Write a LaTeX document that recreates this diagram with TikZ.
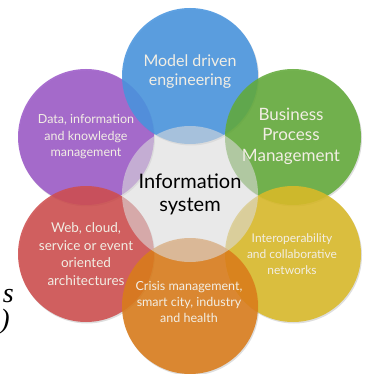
\documentclass[tikz,border=0pt]{standalone}
\usepackage{fontspec}
\setmainfont{Liberation Serif}
\setsansfont{Lato}
\usetikzlibrary{positioning}

\definecolor{mdeblue}{RGB}{72,148,222}
\definecolor{bpmgreen}{RGB}{98,170,58}
\definecolor{netyellow}{RGB}{218,186,40}
\definecolor{crisisorange}{RGB}{218,124,26}
\definecolor{webred}{RGB}{206,78,78}
\definecolor{datapurple}{RGB}{156,90,200}
\definecolor{coregray}{RGB}{218,218,218}
\definecolor{textcream}{RGB}{242,238,228}

\tikzset{
  topic/.style={circle, minimum size=136pt, inner sep=0pt, outer sep=0pt, fill opacity=0.88},
  topictext/.style={text=textcream, align=center, inner sep=0pt},
}

\begin{document}
\begin{tikzpicture}[x=1pt, y=-1pt]
      \useasboundingbox (0,0) rectangle (368,374);
      \clip (0,0) rectangle (368,374);

      % soft shadows under the circles
      \foreach \p in {(190,76),(293,137),(293,254),(190,306),(86,254),(86,137)}
        \fill[black, opacity=0.13] \p ++(1,1.5) circle (68);

      \node[topic, fill=datapurple] (data) at (86,137) {};
      \node[topic, fill=mdeblue] (mde) at (190,76) {};
      \node[topic, fill=bpmgreen] (bpm) at (293,137) {};
      \node[topic, fill=netyellow] (net) at (293,254) {};
      \node[topic, fill=webred] (web) at (86,254) {};
      \node[topic, fill=crisisorange] (crisis) at (190,306) {};
      \node[topic, fill=coregray, fill opacity=0.6] (core) at (190,194) {};

      \node[topictext, font=\sffamily\fontsize{16}{19}\selectfont]
        (mdetext) at ([yshift=4]mde.center) {Model driven\\engineering};
      \node[topictext, font=\sffamily\fontsize{17}{20.5}\selectfont]
        (bpmtext) at ([xshift=-2,yshift=1]bpm.center) {Business\\Process\\Management};
      \node[topictext, font=\sffamily\fontsize{12.5}{16.5}\selectfont]
        (datatext) at (data.center) {Data, information\\and knowledge\\management};
      \node[topictext, font=\sffamily\fontsize{13.5}{17.5}\selectfont]
        (webtext) at (web.center) {Web, cloud,\\service or event\\oriented\\architectures};
      \node[topictext, font=\sffamily\fontsize{12}{16}\selectfont]
        (nettext) at ([xshift=-1]net.center) {Interoperability\\and collaborative\\networks};
      \node[topictext, font=\sffamily\fontsize{12.5}{16}\selectfont]
        (crisistext) at ([xshift=-1,yshift=4]crisis.center) {Crisis management,\\smart city, industry\\and health};
      \node[topictext, text=black, font=\sffamily\fontsize{20}{23}\selectfont]
        (coretext) at (core.center) {Information\\system};

      % cut-off words at the left margin
      \node[anchor=base east, inner sep=0pt, font=\itshape\fontsize{28}{28}\selectfont]
        (fragS) at (14,302) {s};
      \node[anchor=base east, inner sep=0pt, font=\itshape\fontsize{28}{28}\selectfont]
        (fragP) at (10,328) {)};
    \end{tikzpicture}
\end{document}
